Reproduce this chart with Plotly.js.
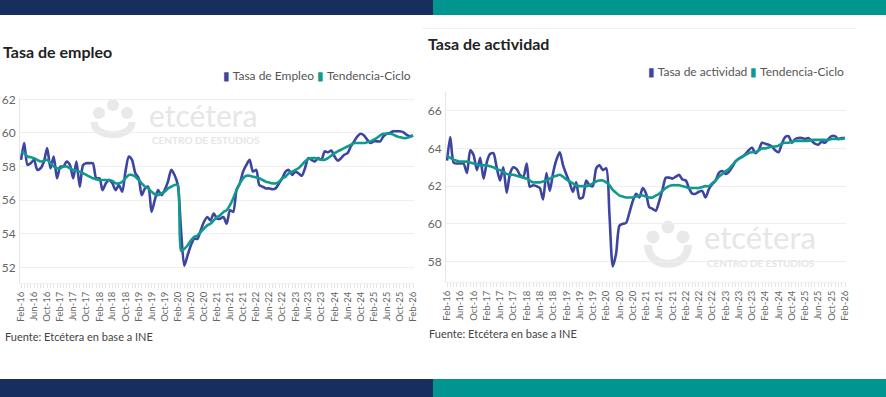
<!DOCTYPE html>
<html>
<head>
<meta charset="utf-8">
<script src="https://cdn.plot.ly/plotly-3.0.1.min.js"></script>
<style>
  html, body { margin:0; padding:0; background:#ffffff; }
  #wrap { position:relative; width:886px; height:397px; overflow:hidden; background:#fff; }
  #left { position:absolute; left:0; top:0; width:420px; height:397px; }
  #right { position:absolute; left:420px; top:0; width:466px; height:397px; }
  .bar { position:absolute; z-index:5; }
</style>
</head>
<body>
<div id="wrap">
  <div id="left"></div>
  <div id="right"></div>
  <div class="bar" style="left:0;top:0;width:433px;height:15px;background:#172f5f;"></div>
  <div class="bar" style="left:433px;top:0;width:453px;height:15px;background:#00958e;"></div>
  <div class="bar" style="left:422px;top:28px;width:435px;height:1px;background:#f0f0f0;"></div>
  <div class="bar" style="left:0;top:379px;width:433px;height:18px;background:#172f5f;"></div>
  <div class="bar" style="left:433px;top:379px;width:453px;height:18px;background:#00958e;"></div>
</div>
<script>
// ---- DATA ----
const startYear = 2016, startMonth = 2; // Feb-16
const nMonths = 121;                     // Feb-16 .. Feb-26

const empleo = [
58.4,59.4,58.1,58.2,58.4,57.8,57.9,58.3,59.1,57.9,
58.6,57.3,58.0,58.0,58.3,58.1,57.3,58.3,56.8,58.1,
58.2,58.2,58.2,57.3,57.3,56.6,57.0,57.2,57.0,56.6,
56.9,56.5,57.7,58.6,58.4,57.6,57.3,56.3,56.7,56.8,
55.3,56.0,56.6,56.3,56.6,57.1,57.8,57.5,56.9,54.3,
52.1,52.7,53.3,53.7,53.7,54.2,54.7,55.0,54.8,55.2,
54.9,54.9,55.0,54.6,55.4,55.3,56.6,57.0,57.7,58.1,
58.4,57.7,57.8,56.9,56.8,56.7,56.7,56.65,56.7,57.0,
57.3,57.7,57.8,57.5,57.7,57.6,57.45,57.9,58.5,58.4,
58.3,58.5,58.4,58.9,58.85,58.95,58.6,58.35,58.5,58.7,
58.8,59.2,59.5,59.8,59.95,59.85,59.6,59.4,59.5,59.5,
59.5,59.8,59.95,60.0,60.1,60.1,60.1,60.05,59.9,59.8,59.85];

const empleoTend = [
58.85,58.8,58.6,58.55,58.5,58.4,58.3,58.35,58.4,58.2,
58.0,57.9,57.9,58.0,58.0,57.9,57.8,57.75,57.7,57.6,
57.5,57.4,57.3,57.25,57.2,57.2,57.2,57.2,57.15,57.0,
57.0,57.1,57.3,57.5,57.5,57.4,57.2,57.0,56.8,56.7,
56.5,56.35,56.3,56.4,56.5,56.7,56.8,56.9,56.9,53.0,
53.1,53.3,53.6,53.8,53.9,54.1,54.3,54.5,54.6,54.8,
55.0,55.1,55.3,55.4,55.7,56.1,56.6,57.0,57.3,57.45,
57.45,57.4,57.35,57.3,57.2,57.1,57.05,57.0,57.0,57.1,
57.3,57.4,57.6,57.7,57.8,57.9,58.1,58.3,58.45,58.5,
58.5,58.45,58.4,58.4,58.5,58.65,58.8,58.9,59.0,59.1,
59.2,59.3,59.4,59.4,59.4,59.4,59.45,59.5,59.6,59.7,
59.85,59.95,59.95,59.95,59.9,59.8,59.75,59.7,59.7,59.75,59.85];

const actividad = [
63.35,64.6,63.24,63.2,63.2,63.2,62.7,63.9,63.65,62.85,
63.5,62.4,63.3,63.7,63.75,63.0,62.3,63.0,61.65,62.67,
63.0,62.9,62.6,62.5,63.2,61.97,62.05,62.0,61.9,61.3,
62.7,61.75,62.7,63.4,63.8,63.1,62.6,62.2,61.7,62.2,
61.35,61.4,62.3,62.05,62.0,62.94,63.1,62.85,62.94,60.55,
57.75,58.4,59.9,60.0,60.05,60.6,61.2,61.6,61.4,61.9,
61.6,60.9,60.8,60.7,61.2,61.8,62.45,62.45,62.4,62.5,
62.6,62.35,62.3,61.9,61.6,61.6,61.7,61.75,61.4,61.85,
62.1,62.3,62.7,62.8,62.65,62.75,63.0,63.3,63.45,63.55,
63.7,63.9,64.05,63.75,63.9,64.3,64.25,64.2,64.1,63.9,
63.8,64.25,64.6,64.65,64.3,64.5,64.55,64.55,64.5,64.55,
64.4,64.25,64.2,64.35,64.3,64.5,64.65,64.65,64.5,64.55,64.55];

const actividadTend = [
63.6,63.5,63.4,63.35,63.3,63.3,63.3,63.25,63.2,63.15,
63.1,63.1,63.1,63.05,63.0,62.9,62.85,62.75,62.65,62.6,
62.6,62.55,62.5,62.45,62.4,62.3,62.2,62.2,62.2,62.25,
62.3,62.4,62.5,62.55,62.6,62.5,62.35,62.25,62.15,62.05,
62.0,62.0,62.0,62.05,62.15,62.25,62.3,62.3,62.2,62.05,
61.8,61.65,61.5,61.45,61.4,61.4,61.4,61.45,61.5,61.5,
61.45,61.4,61.4,61.5,61.6,61.75,61.9,62.0,62.05,62.05,
62.05,62.0,61.95,61.9,61.9,61.9,61.9,61.95,62.0,62.0,
62.15,62.3,62.5,62.65,62.8,62.9,63.1,63.3,63.45,63.55,
63.65,63.75,63.8,63.8,63.9,64.0,64.0,64.05,64.1,64.1,
64.15,64.25,64.3,64.3,64.35,64.4,64.4,64.4,64.4,64.4,
64.45,64.45,64.45,64.45,64.45,64.45,64.5,64.5,64.5,64.5,64.55];

const leftTitle = "Tasa de empleo";
const rightTitle = "Tasa de actividad";
const leftNames = ["Tasa de Empleo", "Tendencia-Ciclo"];
const rightNames = ["Tasa de actividad", "Tendencia-Ciclo"];
const fuente = "Fuente: Etcétera en base a INE";

// ---- BUILD ----
const dates = [];
for (let i = 0; i < nMonths; i++) {
  const t = (startMonth - 1) + i;
  const y = startYear + Math.floor(t / 12);
  const m = (t % 12) + 1;
  dates.push(y + "-" + String(m).padStart(2, "0") + "-01");
}

const BLUE = "#3d45a0", TEAL = "#0e9a8c";
const FONT = "Lato, 'Open Sans', sans-serif";

function makeChart(div, cfg) {
  const W = cfg.width, H = 397, m = cfg.margin;
  const pw = W - m.l - m.r, ph = H - m.t - m.b;
  const px = x => (x - m.l) / pw;
  const py = y => 1 - (y - m.t) / ph;
  const wm = "#e9e9e9";
  const lg = cfg.logo;
  const shapes = [
    {type:"circle", xref:"paper", yref:"paper", layer:"below", fillcolor:wm, line:{width:0},
     x0:px(lg.cx - lg.r), x1:px(lg.cx + lg.r), y0:py(lg.top + lg.r), y1:py(lg.top - lg.r)},
    {type:"circle", xref:"paper", yref:"paper", layer:"below", fillcolor:wm, line:{width:0},
     x0:px(lg.cx - lg.sx - lg.r), x1:px(lg.cx - lg.sx + lg.r), y0:py(lg.top + lg.sy + lg.r), y1:py(lg.top + lg.sy - lg.r)},
    {type:"circle", xref:"paper", yref:"paper", layer:"below", fillcolor:wm, line:{width:0},
     x0:px(lg.cx + lg.sx - lg.r), x1:px(lg.cx + lg.sx + lg.r), y0:py(lg.top + lg.sy + lg.r), y1:py(lg.top + lg.sy - lg.r)},
    {type:"path", xref:"paper", yref:"paper", layer:"below", line:{color:wm, width:lg.w},
     path:"M " + px(lg.cx - lg.uw) + "," + py(lg.uy) +
          " C " + px(lg.cx - lg.uw) + "," + py(lg.ub + 4) + " " + px(lg.cx + lg.uw) + "," + py(lg.ub + 4) +
          " " + px(lg.cx + lg.uw) + "," + py(lg.uy)}
  ];
  const annotations = [
    {xref:"paper", yref:"paper", x:px(cfg.legendRight), y:py(cfg.legendY), xanchor:"right", yanchor:"middle",
     showarrow:false, font:{family:FONT, size:12, color:"#555"},
     text:'<span style="color:' + BLUE + '">▮</span> ' + cfg.names[0] + ' <span style="color:' + TEAL + '">▮</span> ' + cfg.names[1]},
    {xref:"paper", yref:"paper", x:px(cfg.fuenteX), y:py(cfg.fuenteY), xanchor:"left", yanchor:"middle",
     showarrow:false, font:{family:FONT, size:11, color:"#444"}, text:fuente},
    {xref:"paper", yref:"paper", x:px(cfg.wmX), y:py(cfg.wmY1), xanchor:"left", yanchor:"middle",
     showarrow:false, font:{family:FONT, size:cfg.wmSize, color:"#e6e6e6"}, text:"etcétera"},
    {xref:"paper", yref:"paper", x:px(cfg.wmX + 3), y:py(cfg.wmY2), xanchor:"left", yanchor:"middle",
     showarrow:false, font:{family:FONT, size:10, color:"#e6e6e6", weight:700}, text:"CENTRO DE ESTUDIOS"}
  ];
  const traces = [
    {x:dates, y:cfg.series, type:"scatter", mode:"lines", name:cfg.names[0],
     line:{color:BLUE, width:2.6, shape:"spline", smoothing:0.7}, hoverinfo:"skip"},
    {x:dates, y:cfg.trend, type:"scatter", mode:"lines", name:cfg.names[1],
     line:{color:TEAL, width:2.6, shape:"spline", smoothing:0.6}, hoverinfo:"skip"}
  ];
  const layout = {
    width:W, height:H, margin:m, paper_bgcolor:"rgba(0,0,0,0)", plot_bgcolor:"rgba(0,0,0,0)",
    showlegend:false, font:{family:FONT},
    title:{text:"<b>" + cfg.title + "</b>", x:cfg.titleX / W, xref:"container", xanchor:"left",
           y:1 - cfg.titleY / H, yref:"container", yanchor:"middle",
           font:{family:FONT, size:16, color:"#222"}},
    xaxis:{type:"date", range:["2016-01-22","2026-02-10"], tickformat:"%b-%y", dtick:"M4",
           tick0:"2016-02-01", tickangle:-90, tickfont:{family:FONT, size:9.5, color:"#666"},
           showgrid:false, zeroline:false, showline:true, linecolor:"#f0f0f0", linewidth:1,
           ticks:"outside", ticklen:4, tickcolor:"#e4e4e4",
           minor:{dtick:"M1", ticks:"outside", ticklen:4, tickcolor:"#e4e4e4"}, fixedrange:true},
    yaxis:{range:cfg.yrange, dtick:2, tick0:0, tickfont:{family:FONT, size:12, color:"#666"},
           gridcolor:"#eeeeee", zeroline:false, showline:true, linecolor:"#e6e6e6",
           ticks:"outside", ticklen:1, tickcolor:"rgba(0,0,0,0)", fixedrange:true},
    shapes:shapes, annotations:annotations
  };
  Plotly.newPlot(div, traces, layout, {staticPlot:true, displayModeBar:false});
}

makeChart("left", {
  width:420, margin:{l:20, r:6, t:98, b:114},
  yrange:[51.07, 62.08], series:empleo, trend:empleoTend, names:leftNames,
  title:leftTitle, titleX:3, titleY:52,
  legendRight:413, legendY:76, fuenteX:3, fuenteY:336,
  logo:{cx:113, top:105, r:6, sx:14, sy:8, uw:19, uy:122, ub:135, w:7},
  wmX:147, wmY1:115, wmY2:140, wmSize:30
});

makeChart("right", {
  width:466, margin:{l:26, r:40, t:92, b:115},
  yrange:[56.92, 66.99], series:actividad, trend:actividadTend, names:rightNames,
  title:rightTitle, titleX:8, titleY:44,
  legendRight:426, legendY:71, fuenteX:7, fuenteY:333,
  logo:{cx:248, top:227, r:6.5, sx:15, sy:10, uw:20, uy:245, ub:266, w:8},
  wmX:282, wmY1:237, wmY2:263, wmSize:31
});
</script>
</body>
</html>
